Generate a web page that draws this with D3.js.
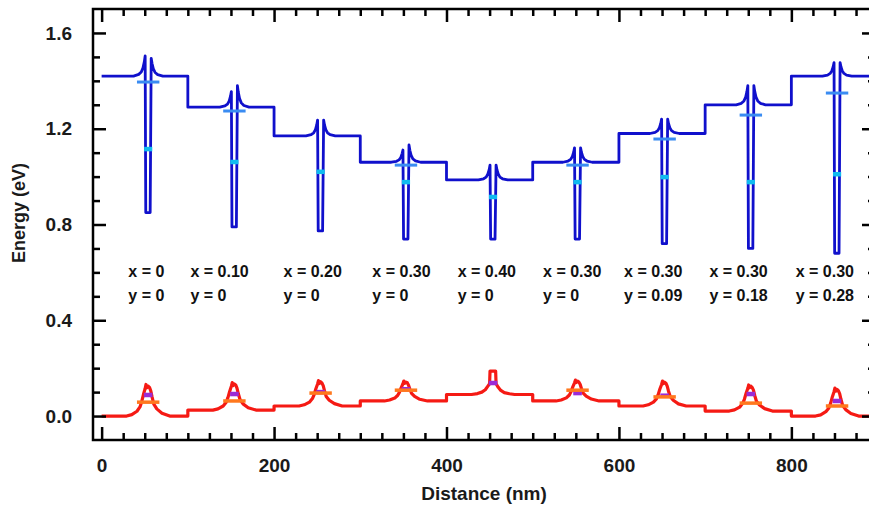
<!DOCTYPE html>
<html lang="en">
<head>
    <meta charset="UTF-8">
    <title>Band diagram</title>
    <script src="https://d3js.org/d3.v7.min.js"></script>
    <style>
        body { margin: 0; background: #fff; }
        svg { display: block; font-family: "Liberation Sans", Arial, sans-serif; font-weight: bold; }
        .axis text { font-size: 19px; font-weight: bold; fill: #1a1a1a; }
        .axis line { stroke: #000; stroke-width: 2.5; }
        .axis path { display: none; }
        .label { font-size: 16px; fill: #111; }
    </style>
</head>
<body>
<div id="plot"></div>
<script>
    // well centres (nm)
    const wellCenters = [54, 154, 254, 353, 454, 552, 653, 753, 853];

    // conduction band profile [distance nm, energy eV]
    const cbProfile = [
        [0, 1.42],
        [37, 1.42], [43, 1.427], [46, 1.437], [48, 1.454], [49.5, 1.479], [50.5, 1.504], [51.2, 0.85], [56.3, 0.85], [57.5, 1.494], [58.5, 1.472], [60, 1.45], [62, 1.435], [65, 1.426], [71, 1.42],
        [100, 1.42], [100, 1.29],
        [137, 1.29], [143, 1.295], [146, 1.303], [148, 1.316], [149.5, 1.336], [150.5, 1.355], [151.2, 0.79], [156.3, 0.79], [157.5, 1.38], [158.5, 1.353], [160, 1.326], [162, 1.308], [165, 1.297], [171, 1.29],
        [200, 1.29], [200, 1.17],
        [237, 1.17], [243, 1.175], [246, 1.183], [248, 1.196], [249.5, 1.216], [250.5, 1.236], [251.2, 0.773], [256.3, 0.773], [257.5, 1.236], [258.5, 1.216], [260, 1.196], [262, 1.183], [265, 1.175], [271, 1.17],
        [300, 1.17], [300, 1.06],
        [336, 1.06], [342, 1.064], [345, 1.07], [347, 1.08], [348.5, 1.096], [349.5, 1.111], [350.2, 0.739], [355.3, 0.739], [356.5, 1.132], [357.5, 1.11], [359, 1.089], [361, 1.074], [364, 1.066], [370, 1.06],
        [400, 1.06], [400, 0.986],
        [437, 0.986], [443, 0.991], [446, 0.998], [448, 1.011], [449.5, 1.029], [450.5, 1.048], [451.2, 0.739], [456.3, 0.739], [457.5, 1.048], [458.5, 1.029], [460, 1.011], [462, 0.998], [465, 0.991], [471, 0.986],
        [500, 0.986], [500, 1.06],
        [535, 1.06], [541, 1.065], [544, 1.072], [546, 1.084], [547.5, 1.102], [548.5, 1.12], [549.2, 0.739], [554.3, 0.739], [555.5, 1.12], [556.5, 1.102], [558, 1.084], [560, 1.072], [563, 1.065], [569, 1.06],
        [600, 1.06], [600, 1.18],
        [636, 1.18], [642, 1.185], [645, 1.192], [647, 1.204], [648.5, 1.222], [649.5, 1.24], [650.2, 0.72], [655.3, 0.72], [656.5, 1.24], [657.5, 1.222], [659, 1.204], [661, 1.192], [664, 1.185], [670, 1.18],
        [700, 1.18], [700, 1.30],
        [736, 1.30], [742, 1.306], [745, 1.316], [747, 1.332], [748.5, 1.356], [749.5, 1.38], [750.2, 0.70], [755.3, 0.70], [756.5, 1.38], [757.5, 1.356], [759, 1.332], [761, 1.316], [764, 1.306], [770, 1.30],
        [800, 1.30], [800, 1.42],
        [836, 1.42], [842, 1.424], [845, 1.431], [847, 1.442], [848.5, 1.459], [849.5, 1.476], [850.2, 0.68], [855.3, 0.68], [856.5, 1.476], [857.5, 1.459], [859, 1.442], [861, 1.431], [864, 1.424], [870, 1.42],
        [897, 1.42]
    ];

    // valence band profile [distance nm, energy eV]
    const vbProfile = [
        [0, 0],
        [29, 0], [35, 0.006], [41, 0.02], [44.5, 0.038], [46.5, 0.06], [48.5, 0.09], [50.5, 0.115], [51.5, 0.132], [52.5, 0.118], [54, 0.125], [55.5, 0.12], [57, 0.105], [58.5, 0.08], [60.5, 0.05], [64, 0.03], [70, 0.012], [79, 0],
        [100, 0], [100, 0.025],
        [129, 0.025], [135, 0.03], [141, 0.042], [144.5, 0.058], [146.5, 0.077], [148.5, 0.103], [150.5, 0.125], [151.5, 0.14], [152.5, 0.127], [154, 0.134], [155.5, 0.13], [157, 0.117], [158.5, 0.094], [160.5, 0.069], [164, 0.051], [170, 0.035], [179, 0.025],
        [200, 0.025], [200, 0.042],
        [229, 0.042], [235, 0.047], [241, 0.058], [244.5, 0.073], [246.5, 0.09], [248.5, 0.114], [250.5, 0.134], [251.5, 0.148], [252.5, 0.136], [254, 0.143], [255.5, 0.138], [257, 0.127], [258.5, 0.106], [260.5, 0.082], [264, 0.066], [270, 0.052], [279, 0.042],
        [300, 0.042], [300, 0.063],
        [328, 0.063], [334, 0.067], [340, 0.075], [343.5, 0.087], [345.5, 0.1], [347.5, 0.119], [349.5, 0.135], [350.5, 0.146], [351.5, 0.137], [353, 0.142], [354.5, 0.139], [356, 0.129], [357.5, 0.113], [359.5, 0.095], [363, 0.082], [369, 0.07], [378, 0.063],
        [400, 0.063], [400, 0.09],
        [429, 0.09], [436, 0.094], [441, 0.1], [445, 0.11], [448, 0.125], [450, 0.135], [450.5, 0.188], [457, 0.188], [457.5, 0.135], [460, 0.12], [463, 0.107], [467, 0.098], [473, 0.093], [479, 0.09],
        [500, 0.09], [500, 0.063],
        [527, 0.063], [533, 0.067], [539, 0.076], [542.5, 0.088], [544.5, 0.102], [546.5, 0.122], [548.5, 0.139], [549.5, 0.15], [550.5, 0.14], [552, 0.146], [553.5, 0.142], [555, 0.133], [556.5, 0.115], [558.5, 0.096], [562, 0.083], [568, 0.071], [577, 0.063],
        [600, 0.063], [600, 0.042],
        [628, 0.042], [634, 0.047], [640, 0.058], [643.5, 0.072], [645.5, 0.089], [647.5, 0.113], [649.5, 0.132], [650.5, 0.146], [651.5, 0.135], [653, 0.141], [654.5, 0.137], [656, 0.125], [657.5, 0.104], [659.5, 0.082], [663, 0.066], [669, 0.051], [678, 0.042],
        [700, 0.042], [700, 0.021],
        [728, 0.021], [734, 0.026], [740, 0.037], [743.5, 0.053], [745.5, 0.07], [747.5, 0.095], [749.5, 0.116], [750.5, 0.13], [751.5, 0.118], [753, 0.125], [754.5, 0.12], [756, 0.108], [757.5, 0.086], [759.5, 0.062], [763, 0.046], [769, 0.031], [778, 0.021],
        [800, 0.021], [800, 0],
        [828, 0], [834, 0.005], [840, 0.018], [843.5, 0.034], [845.5, 0.053], [847.5, 0.08], [849.5, 0.102], [850.5, 0.117], [851.5, 0.104], [853, 0.111], [854.5, 0.106], [856, 0.094], [857.5, 0.07], [859.5, 0.044], [863, 0.027], [869, 0.011], [878, 0],
        [897, 0]
    ];

    // energy levels per well (null = not shown)
    const electronLevel2 = [1.395, 1.274, null, 1.048, null, 1.048, 1.157, 1.257, 1.349];
    const electronLevel1 = [1.115, 1.061, 1.02, 0.977, 0.915, 0.977, 0.998, 0.977, 1.01];
    const holeLevel1 = [0.088, 0.092, 0.1, 0.112, 0.138, 0.096, 0.085, 0.092, 0.063];
    const holeLevel2 = [0.058, 0.063, 0.096, 0.108, null, 0.108, 0.08, 0.054, 0.042];

    // composition labels
    const xComp = ["0", "0.10", "0.20", "0.30", "0.40", "0.30", "0.30", "0.30", "0.30"];
    const yComp = ["0", "0", "0", "0", "0", "0", "0.09", "0.18", "0.28"];
    const labelPos = [31, 103, 211, 314, 413, 512, 606, 705, 805];

    const xTicks = [0, 200, 400, 600, 800];
    const yTicks = [0, 0.4, 0.8, 1.2, 1.6];

    const W = 869, H = 513;
    const margin = {left: 93, right: 875, top: 9, bottom: 440};

    const svg = d3.select("#plot").append("svg")
        .attr("width", W)
        .attr("height", H);

    const x = d3.scaleLinear().domain([-10, 897]).range([margin.left, margin.right]);
    const y = d3.scaleLinear().domain([-0.1, 1.7]).range([margin.bottom, margin.top]);

    const xMinor = d3.range(25, 890, 25).filter(d => d % 200 !== 0);
    const yMinor = d3.range(1, 17).map(d => d / 10).filter(d => Math.round(d * 10) % 4 !== 0);

    // bands
    const line = d3.line().x(d => x(d[0])).y(d => y(d[1]));

    svg.append("defs").append("clipPath").attr("id", "clip")
        .append("rect").attr("x", margin.left).attr("y", margin.top)
        .attr("width", margin.right - margin.left).attr("height", margin.bottom - margin.top);

    const plot = svg.append("g").attr("clip-path", "url(#clip)");

    plot.append("path")
        .datum(vbProfile)
        .attr("d", line)
        .attr("fill", "none")
        .attr("stroke", "#f51a14")
        .attr("stroke-width", 3.2)
        .attr("stroke-linejoin", "round");

    plot.append("path")
        .datum(cbProfile)
        .attr("d", line)
        .attr("fill", "none")
        .attr("stroke", "#1010cc")
        .attr("stroke-width", 2.8)
        .attr("stroke-linejoin", "round");

    // level markers
    function levels(vals, widthNm, hPx, color) {
        plot.append("g").selectAll("rect")
            .data(vals.map((v, i) => ({c: wellCenters[i], v: v})).filter(d => d.v !== null))
            .join("rect")
                .attr("x", d => x(d.c - widthNm / 2))
                .attr("width", d => x(d.c + widthNm / 2) - x(d.c - widthNm / 2))
                .attr("y", d => y(d.v) - hPx / 2)
                .attr("height", hPx)
                .attr("fill", color);
    }
    levels(electronLevel2, 26, 3, "#3a8cf2");
    levels(electronLevel1, 9.5, 4.5, "#10bcf0");
    levels(holeLevel1, 10, 4.5, "#9a2bd6");
    levels(holeLevel2, 26, 3.5, "#ff781e");

    // composition labels
    const lab = svg.append("g").attr("class", "label");
    lab.selectAll(".lx").data(xComp).join("text")
        .attr("class", "lx")
        .attr("x", (d, i) => x(labelPos[i]))
        .attr("y", y(0.58))
        .text(d => `x = ${d}`);
    lab.selectAll(".ly").data(yComp).join("text")
        .attr("class", "ly")
        .attr("x", (d, i) => x(labelPos[i]))
        .attr("y", y(0.48))
        .text(d => `y = ${d}`);

    // axes, ticks inward
    svg.append("g").attr("class", "axis")
        .attr("transform", `translate(0,${margin.bottom})`)
        .call(d3.axisBottom(x).tickValues(xTicks).tickSize(-13).tickPadding(19).tickFormat(d3.format("d")));
    svg.append("g").attr("class", "axis")
        .attr("transform", `translate(0,${margin.bottom})`)
        .call(d3.axisBottom(x).tickValues(xMinor).tickSize(-7).tickFormat(""));
    svg.append("g").attr("class", "axis")
        .attr("transform", `translate(0,${margin.top})`)
        .call(d3.axisTop(x).tickValues(xTicks).tickSize(-13).tickFormat(""));
    svg.append("g").attr("class", "axis")
        .attr("transform", `translate(0,${margin.top})`)
        .call(d3.axisTop(x).tickValues(xMinor).tickSize(-7).tickFormat(""));

    svg.append("g").attr("class", "axis")
        .attr("transform", `translate(${margin.left},0)`)
        .call(d3.axisLeft(y).tickValues(yTicks).tickSize(-13).tickPadding(21).tickFormat(d3.format(".1f")));
    svg.append("g").attr("class", "axis")
        .attr("transform", `translate(${margin.left},0)`)
        .call(d3.axisLeft(y).tickValues(yMinor).tickSize(-7).tickFormat(""));
    svg.append("g").attr("class", "axis")
        .attr("transform", `translate(${margin.right},0)`)
        .call(d3.axisRight(y).tickValues(yTicks).tickSize(-13).tickFormat(""));
    svg.append("g").attr("class", "axis")
        .attr("transform", `translate(${margin.right},0)`)
        .call(d3.axisRight(y).tickValues(yMinor).tickSize(-7).tickFormat(""));

    // frame
    svg.append("rect")
        .attr("x", margin.left).attr("y", margin.top)
        .attr("width", margin.right - margin.left).attr("height", margin.bottom - margin.top)
        .attr("fill", "none")
        .attr("stroke", "#000")
        .attr("stroke-width", 2.5);

    // titles
    svg.append("text")
        .attr("x", 484)
        .attr("y", 500)
        .attr("text-anchor", "middle")
        .style("font-size", "19px")
        .style("fill", "#1a1a1a")
        .text("Distance (nm)");

    svg.append("text")
        .attr("transform", "rotate(-90)")
        .attr("x", -213)
        .attr("y", 25)
        .attr("text-anchor", "middle")
        .style("font-size", "18px")
        .style("fill", "#1a1a1a")
        .text("Energy (eV)");
</script>
</body>
</html>
